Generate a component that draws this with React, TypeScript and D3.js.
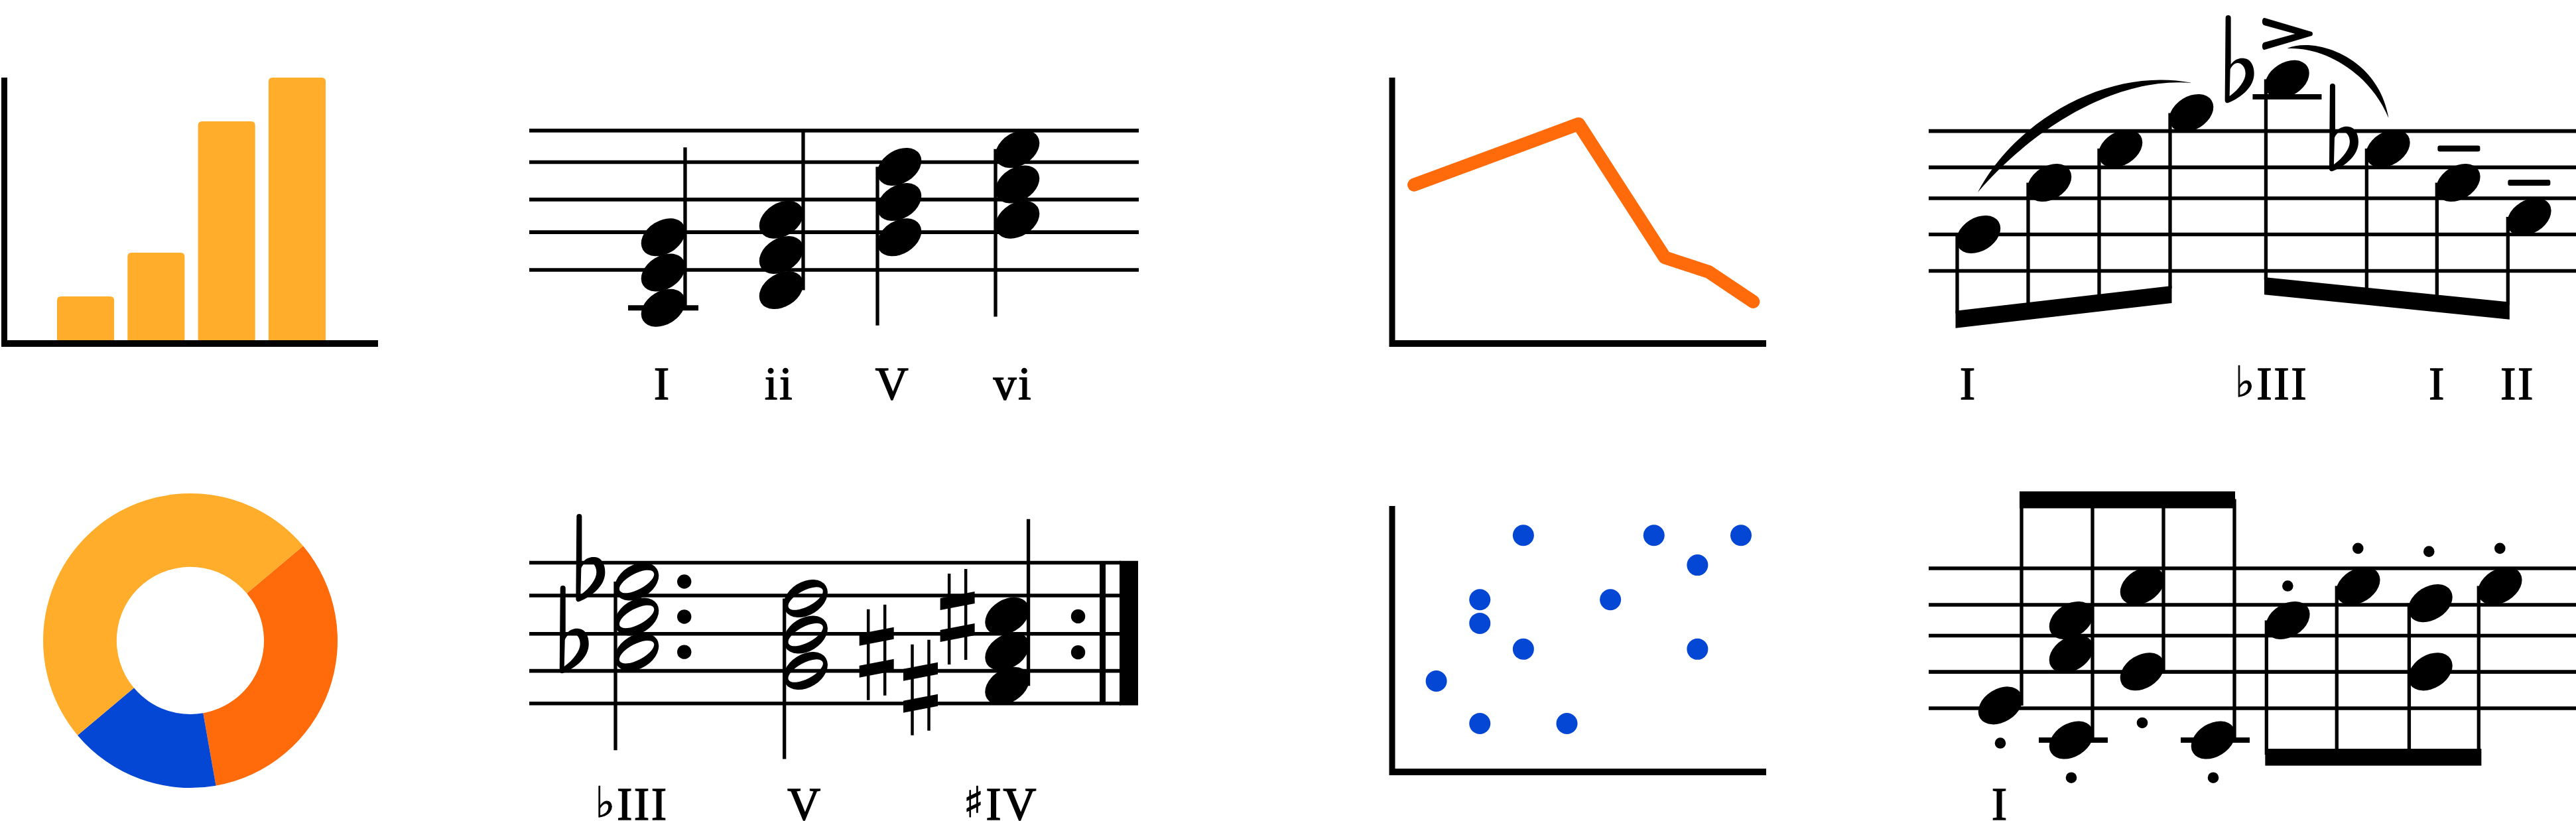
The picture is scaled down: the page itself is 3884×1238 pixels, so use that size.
// App.tsx
import React from 'react';
import * as d3 from 'd3';

const YELLOW = '#FFAD2A';
const ORANGE = '#FF6A0A';
const BLUE = '#0447D4';

// small charts
const barNames = ['a', 'b', 'c', 'd'];
const barValues = [1, 2, 5, 6];
const lineXs = [0.49, 4.27, 6.25, 7.26, 8.28];
const lineValues = [3.55, 4.94, 1.89, 1.56, 0.88];
const pieValues = [2, 1, 3];
const scatterXs = [3, 6, 8, 7, 2, 5, 2, 3, 7, 1, 2, 4];
const scatterYs = [5.33, 5.33, 5.33, 4.65, 3.86, 3.86, 3.32, 2.73, 2.73, 2.0, 1.03, 1.03];

// staff 1 (top left): chords in staff steps above bottom line
const oneLines = [0.15, 2.29, 4.14, 6.26, 8.05];
const oneChords = [[-2, 0, 2], [-1, 1, 3], [2, 4, 6], [3, 5, 7]];
const oneStems = [{ dir: 1, end: 7.1 }, { dir: 1, end: 8.05 }, { dir: -1, end: -3 }, { dir: -1, end: -2.5 }];
const oneLabels = ['I', 'ii', 'V', 'vi'];
const oneLabelAt = [0, 0.99, 1.95, 2.97];

// staff 2 (top right)
const twoLines = [0.13, 2.2, 4.25, 6.0, 8.06];
const twoBeats = [0, 1, 2, 3, 4.35, 5.77, 6.76, 7.76];
const twoSteps = [2.2, 5.13, 7.07, 9.08, 11, 7.07, 5.13, 3.2];
const twoBeams = [
    { from: 0, to: 3, left: -2.13, right: -0.71 },
    { from: 4, to: 7, left: -0.23, right: -1.64 },
];
const twoLabels = ['I', '♭III', 'I', 'II'];
const twoLabelAt = [-0.14, 4.13, 6.47, 7.6];
const twoFlats = [{ x: 3.52, s: 14.47 }, { x: 4.99, s: 10.6 }];
const twoTenutos = [{ x: 6.77, s: 7.07 }, { x: 7.76, s: 5.13 }];
const twoSlurs = [
    [[-0.01, 4.59], [0.53, 8.72], [1.84, 11.73], [3.01, 10.79], [1.84, 11.17], [0.67, 7.78]],
    [[4.35, 12.74], [4.74, 13.42], [5.63, 12.29], [5.78, 8.8], [5.49, 11.54], [4.83, 12.86]],
];

// staff 3 (bottom left)
const threeLines = [0.15, 2.0, 4.1, 6.27, 8.13];
const threeBeats = [0, 2.38, 5.22];
const threeChords = [[7.06, 5.07, 3.07], [6.1, 4.05, 2.0], [5.1, 3.1, 1.15]];
const threeStemEnds = [-2.5, -3, 10.6];
const threeFlats = [{ x: -1.04, s: 6.68 }, { x: -0.81, s: 10.74 }];
const threeSharps = [{ x: 3.38, s: 3.05 }, { x: 4.0, s: 1.05 }, { x: 4.52, s: 5.07 }];
const threeDots = [{ x: 0.67, s: 7.06 }, { x: 0.67, s: 5.07 }, { x: 0.67, s: 3.07 }, { x: 6.22, s: 5.09 }, { x: 6.22, s: 3.05 }];
const threeLabels = ['♭III', 'V', '♯IV'];
const threeLabelAt = [-0.07, 2.37, 5.13];

// staff 4 (bottom right)
const fourLines = [0.135, 2.2, 4.25, 6.0, 8.07];
const fourBeats = [0, 1, 2, 3, 4.05, 5.04, 6.06, 7.04];
const fourChords = [[0.29], [5.12, 3.22, -1.67], [7.07, 2.21], [-1.67], [5.12], [7.07], [6.09, 2.21], [7.07]];
const fourDots = [
    { x: 5.04, s: 9.2 }, { x: 6.04, s: 9.02 }, { x: 7.04, s: 9.2 }, { x: 4.05, s: 7.07 },
    { x: 0, s: -1.84 }, { x: 2, s: -0.69 }, { x: 1, s: -3.8 }, { x: 3, s: -3.8 },
];

const HEAD_A = 36;
const HEAD_B = 25;
const STEM_OFF = 32;

function ellipse(cx: number, cy: number, a: number, b: number, deg: number) {
    const r = (deg * Math.PI) / 180;
    const dx = a * Math.cos(r);
    const dy = a * Math.sin(r);
    return `M${cx - dx},${cy - dy}A${a},${b} ${deg} 1 1 ${cx + dx},${cy + dy}A${a},${b} ${deg} 1 1 ${cx - dx},${cy - dy}Z`;
}

const Head = ({ x, y, hollow }: { x: number; y: number; hollow?: boolean }) => (
    <path
        fillRule="evenodd"
        d={ellipse(x, y, HEAD_A, HEAD_B, -32) + (hollow ? ellipse(x, y, 29, 12, -28) : '')}
    />
);

const FLAT =
    'M-4,0a4,4 0 0 1 8,0L4,70C10,62 18,60 24,61C34,62 39,72 39,84C39,104 20,120 0,128C-3,129 -5,127 -5,124Z' +
    'M3,78L2,118C16,108 26,94 26,84C26,74 20,68 14,68C10,68 5,72 3,78Z';
const Flat = ({ x, y }: { x: number; y: number }) => (
    <path transform={`translate(${x},${y})`} fillRule="evenodd" d={FLAT} />
);

const Sharp = ({ x, y }: { x: number; y: number }) => (
    <g transform={`translate(${x},${y})`}>
        <line x1={-12.5} x2={-12.5} y1={-65} y2={72} stroke="#000" strokeWidth={4.5} />
        <line x1={12.5} x2={12.5} y1={-72} y2={65} stroke="#000" strokeWidth={4.5} />
        <path d="M-26,-28L26,-38V-20L-26,-10Z" />
        <path d="M-26,26L26,16V34L-26,44Z" transform="translate(0,-6)" />
    </g>
);

const Staff = ({ lines, y, x0, x1 }: { lines: number[]; y: any; x0: number; x1: number }) => (
    <g>
        {lines.map((s, i) => (
            <line key={i} x1={x0} x2={x1} y1={y(s)} y2={y(s)} stroke="#000" strokeWidth={5.6} />
        ))}
    </g>
);

const Stem = ({ x, y1, y2 }: { x: number; y1: number; y2: number }) => (
    <line x1={x} x2={x} y1={y1} y2={y2} stroke="#000" strokeWidth={5.3} />
);

const Ledger = ({ x, y, w = 104 }: { x: number; y: number; w?: number }) => (
    <line x1={x - w / 2} x2={x + w / 2} y1={y} y2={y} stroke="#000" strokeWidth={8} />
);

const Label = ({ text, x, y }: { text: string; x: number; y: number }) => {
    const acc = /^[♭♯]/.test(text) ? text[0] : '';
    return (
        <text
            x={x}
            y={y}
            textAnchor="middle"
            fontFamily="'Liberation Serif'"
            fontSize={69}
            letterSpacing={3}
            fill="#000"
            stroke="#000"
            strokeWidth={1.6}
        >
            {acc && (
                <tspan fontFamily="'DejaVu Sans'" fontSize={64} dy={-4} strokeWidth={1}>
                    {acc}
                </tspan>
            )}
            <tspan dy={acc ? 4 : 0}>{acc ? text.slice(1) : text}</tspan>
        </text>
    );
};

function Axes({ x, top, bottom, right }: { x: number; top: number; bottom: number; right: number }) {
    return (
        <g stroke="#000">
            <line x1={x} x2={x} y1={top} y2={bottom} strokeWidth={9} />
            <line x1={x - 4.5} x2={right} y1={bottom + 5} y2={bottom + 5} strokeWidth={10} />
        </g>
    );
}

function BarPanel() {
    const x = d3.scaleBand().domain(barNames).range([86, 491]).paddingInner(0.19);
    const y = d3.scaleLinear().domain([0, 6]).range([513, 117]);
    return (
        <g>
            {barValues.map((v, i) => {
                const left = x(barNames[i]) as number;
                const w = x.bandwidth();
                const r = 6;
                return (
                    <path
                        key={i}
                        fill={YELLOW}
                        d={`M${left},${y(0)}V${y(v) + r}Q${left},${y(v)} ${left + r},${y(v)}H${left + w - r}Q${left + w},${y(v)} ${left + w},${y(v) + r}V${y(0)}Z`}
                    />
                );
            })}
            <Axes x={6.5} top={117} bottom={513} right={570} />
        </g>
    );
}

function LinePanel() {
    const x = d3.scaleLinear().domain([0, 8]).range([2100, 2625]);
    const y = d3.scaleLinear().domain([0, 6]).range([513, 117]);
    const line = d3
        .line<number>()
        .x((d) => x(d))
        .y((_, i) => y(lineValues[i]));
    return (
        <g>
            <path d={line(lineXs) as string} fill="none" stroke={ORANGE} strokeWidth={20} strokeLinecap="round" strokeLinejoin="round" />
            <Axes x={2099} top={117} bottom={513} right={2663} />
        </g>
    );
}

function PiePanel() {
    const start = (50 * Math.PI) / 180;
    const pie = d3.pie<number>().sort(null).startAngle(start).endAngle(start + 2 * Math.PI);
    const arc = d3.arc<d3.PieArcDatum<number>>().innerRadius(111).outerRadius(222);
    const colors = [ORANGE, BLUE, YELLOW];
    return (
        <g transform="translate(287,966)">
            {pie(pieValues).map((d, i) => (
                <path key={i} d={arc(d) as string} fill={colors[i]} />
            ))}
        </g>
    );
}

function ScatterPanel() {
    const x = d3.scaleLinear().domain([0, 8]).range([2100, 2625]);
    const y = d3.scaleLinear().domain([0, 6]).range([1159, 763]);
    return (
        <g>
            {scatterXs.map((v, i) => (
                <circle key={i} cx={x(v)} cy={y(scatterYs[i])} r={16} fill={BLUE} />
            ))}
            <Axes x={2099} top={763} bottom={1159} right={2663} />
        </g>
    );
}

function StaffOne() {
    const x = d3.scaleLinear().domain([0, 1]).range([1000, 1178]);
    const y = d3.scaleLinear().domain([0, 8]).range([411, 198.2]);
    return (
        <g>
            <Staff lines={oneLines} y={y} x0={798} x1={1717} />
            <Ledger x={x(0)} y={y(-2)} w={106} />
            {oneChords.map((c, i) => {
                const st = oneStems[i];
                const sx = x(i) + st.dir * 33;
                return (
                    <g key={i}>
                        <Stem x={sx} y1={y(st.dir > 0 ? d3.min(c)! : d3.max(c)!)} y2={y(st.end)} />
                        {c.map((s) => (
                            <Head key={s} x={x(i)} y={y(s)} />
                        ))}
                    </g>
                );
            })}
            {oneLabels.map((t, i) => (
                <Label key={i} text={t} x={x(oneLabelAt[i]) - 1} y={602} />
            ))}
        </g>
    );
}

function StaffTwo() {
    const x = d3.scaleLinear().domain([0, 1]).range([2983, 3090]);
    const y = d3.scaleLinear().domain([0, 8]).range([412, 199.2]);
    const beamH = 0.98;
    return (
        <g>
            <Staff lines={twoLines} y={y} x0={2908} x1={3884} />
            {twoBeams.map((b, i) => {
                const xa = x(twoBeats[b.from]) - STEM_OFF;
                const xb = x(twoBeats[b.to]) - STEM_OFF;
                const top = d3.scaleLinear().domain([xa, xb]).range([y(b.left), y(b.right)]);
                return (
                    <g key={i}>
                        {d3.range(b.from, b.to + 1).map((n) => {
                            const sx = x(twoBeats[n]) - STEM_OFF;
                            return <Stem key={n} x={sx} y1={y(twoSteps[n])} y2={top(sx) + 4} />;
                        })}
                        <path
                            d={`M${xa - 2.5},${y(b.left)}L${xb + 2.5},${y(b.right)}L${xb + 2.5},${y(b.right - beamH)}L${xa - 2.5},${y(b.left - beamH)}Z`}
                        />
                    </g>
                );
            })}
            <Ledger x={x(twoBeats[4])} y={y(10)} />
            {twoSteps.map((s, i) => (
                <Head key={i} x={x(twoBeats[i])} y={y(s)} />
            ))}
            {twoFlats.map((f, i) => (
                <Flat key={i} x={x(f.x)} y={y(f.s)} />
            ))}
            {twoTenutos.map((t, i) => (
                <rect key={i} x={x(t.x) - 32} y={y(t.s) - 4.5} width={64} height={9} rx={3} />
            ))}
            {twoSlurs.map((c, i) => {
                const p = d3.path();
                const X = (k: number) => x(c[k][0]);
                const Y = (k: number) => y(c[k][1]);
                p.moveTo(X(0), Y(0));
                p.bezierCurveTo(X(1), Y(1), X(2), Y(2), X(3), Y(3));
                p.bezierCurveTo(X(4), Y(4), X(5), Y(5), X(0), Y(0));
                p.closePath();
                return <path key={i} d={p.toString()} />;
            })}
            <path
                transform={`translate(${x(twoBeats[4]) - 37},${y(14.47)})`}
                d="M3,0L74,21C76,22 76,26 74,27L3,48C-1,49 -2,39 2,37L49,24L2,11C-2,9 -1,-1 3,0Z"
            />
            {twoLabels.map((t, i) => (
                <Label key={i} text={t} x={x(twoLabelAt[i])} y={602} />
            ))}
        </g>
    );
}

function StaffThree() {
    const x = d3.scaleLinear().domain([0, 1]).range([960, 1067]);
    const y = d3.scaleLinear().domain([0, 8]).range([1064.8, 852]);
    return (
        <g>
            <Staff lines={threeLines} y={y} x0={798} x1={1690} />
            <rect x={1688} y={y(8.13) - 2.8} width={28} height={y(0.15) - y(8.13) + 5.6} />
            <rect x={1658} y={y(8.13)} width={9} height={y(0.15) - y(8.13)} />
            {threeFlats.map((f, i) => (
                <Flat key={i} x={x(f.x)} y={y(f.s)} />
            ))}
            {threeSharps.map((f, i) => (
                <Sharp key={i} x={x(f.x)} y={y(f.s)} />
            ))}
            {threeChords.map((c, i) => {
                const up = i === 2;
                const sx = x(threeBeats[i]) + (up ? STEM_OFF : -STEM_OFF);
                return (
                    <g key={i}>
                        <Stem x={sx} y1={y(up ? d3.min(c)! : d3.max(c)!)} y2={y(threeStemEnds[i])} />
                        {c.map((s) => (
                            <Head key={s} x={x(threeBeats[i])} y={y(s)} hollow={i < 2} />
                        ))}
                    </g>
                );
            })}
            {threeDots.map((d, i) => (
                <circle key={i} cx={x(d.x)} cy={y(d.s)} r={10.7} />
            ))}
            {threeLabels.map((t, i) => (
                <Label key={i} text={t} x={x(threeLabelAt[i])} y={1236} />
            ))}
        </g>
    );
}

function StaffFour() {
    const x = d3.scaleLinear().domain([0, 1]).range([3016, 3123]);
    const y = d3.scaleLinear().domain([0, 8]).range([1071.6, 858.8]);
    return (
        <g>
            <Staff lines={fourLines} y={y} x0={2908} x1={3884} />
            {fourChords.map((c, i) => {
                const up = i < 4;
                const sx = x(fourBeats[i]) + (up ? STEM_OFF : -STEM_OFF);
                return (
                    <g key={i}>
                        <Stem x={sx} y1={y(up ? d3.min(c)! : d3.max(c)!)} y2={y(up ? 12 : -2.5)} />
                        {c.map((s) => (
                            <Head key={s} x={x(fourBeats[i])} y={y(s)} />
                        ))}
                        {d3.min(c)! < -1 && <Ledger x={x(fourBeats[i]) + 3} y={y(-1.67)} />}
                    </g>
                );
            })}
            <rect x={x(fourBeats[0]) + STEM_OFF - 3} y={y(12.43)} width={325} height={25.5} />
            <rect x={x(fourBeats[4]) - STEM_OFF - 2} y={y(-2.16)} width={326} height={25.5} />
            {fourDots.map((d, i) => (
                <circle key={i} cx={x(d.x)} cy={y(d.s)} r={8.3} />
            ))}
            <Label text="I" x={x(0)} y={1236} />
        </g>
    );
}

export default function App() {
    return (
        <svg width={3884} height={1238} style={{ position: 'absolute', left: 0, top: 0, display: 'block', background: '#fff' }}>
            <BarPanel />
            <StaffOne />
            <LinePanel />
            <StaffTwo />
            <PiePanel />
            <StaffThree />
            <ScatterPanel />
            <StaffFour />
        </svg>
    );
}
